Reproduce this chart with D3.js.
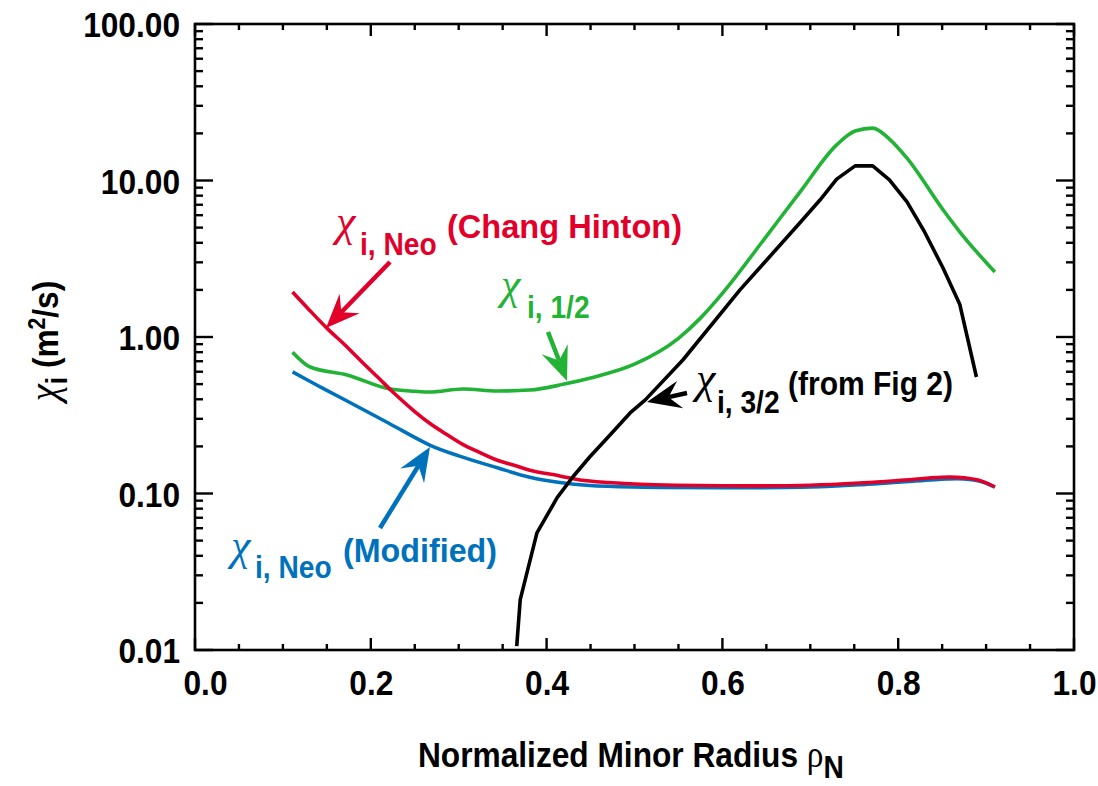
<!DOCTYPE html>
<html><head><meta charset="utf-8">
<script src="https://cdn.jsdelivr.net/npm/d3@7"></script>
<style>body{margin:0;background:#fff}</style>
</head><body><svg id="chart" width="1098" height="786"></svg>
<script>
// ---------- data ----------
const xTickLabels = [0.0, 0.2, 0.4, 0.6, 0.8, 1.0];
const yTickLabels = [0.01, 0.1, 1, 10, 100];

const rhoNeoCH = [0.111, 0.13, 0.15, 0.17, 0.19, 0.21, 0.225, 0.25, 0.267, 0.287, 0.304, 0.32, 0.344, 0.364, 0.381, 0.415, 0.438, 0.47, 0.5, 0.6, 0.7, 0.76, 0.8, 0.85, 0.875, 0.895, 0.91];
const chiNeoCH = [1.94, 1.49, 1.14, 0.895, 0.692, 0.539, 0.445, 0.334, 0.281, 0.237, 0.207, 0.187, 0.163, 0.151, 0.141, 0.1295, 0.122, 0.1175, 0.115, 0.112, 0.113, 0.117, 0.121, 0.127, 0.126, 0.120, 0.110];

const rhoNeoMod = [0.111, 0.14, 0.173, 0.22, 0.267, 0.3, 0.344, 0.381, 0.415, 0.449, 0.5, 0.6, 0.7, 0.76, 0.8, 0.855, 0.875, 0.895, 0.91];
const chiNeoMod = [0.598, 0.488, 0.390, 0.282, 0.204, 0.174, 0.146, 0.127, 0.1175, 0.1125, 0.110, 0.109, 0.110, 0.114, 0.118, 0.124, 0.124, 0.119, 0.110];

const rhoHalf = [0.111, 0.131, 0.173, 0.222, 0.25, 0.267, 0.305, 0.344, 0.381, 0.42, 0.45, 0.5, 0.55, 0.575, 0.6, 0.65, 0.688, 0.73, 0.751, 0.771, 0.79, 0.81, 0.851, 0.87, 0.91];
const chiHalf = [0.80, 0.643, 0.572, 0.465, 0.45, 0.445, 0.465, 0.452, 0.458, 0.50, 0.547, 0.67, 0.98, 1.32, 1.9, 4.4, 8.4, 16.9, 20.7, 21.6, 18.4, 13.9, 6.5, 4.7, 2.6];

const rhoThreeHalf = [0.366, 0.370, 0.389, 0.412, 0.430, 0.449, 0.469, 0.495, 0.512, 0.555, 0.62, 0.688, 0.711, 0.73, 0.751, 0.771, 0.79, 0.81, 0.83, 0.851, 0.87, 0.889];
const chiThreeHalf = [0.0106, 0.021, 0.056, 0.094, 0.128, 0.171, 0.226, 0.327, 0.395, 0.713, 2.0, 5.35, 7.5, 10.2, 12.4, 12.4, 10.1, 7.3, 4.69, 2.76, 1.62, 0.555];

// ---------- setup ----------
const RED = '#e2002b', GREEN = '#22b235', BLUE = '#0072bc', BLACK = '#000';
const SANS = '"Liberation Sans", Arial, Helvetica, sans-serif';
const SERIF = '"Liberation Serif", "Times New Roman", serif';
const SX = 0.88;

const m = {l: 195, r: 1074, t: 24, b: 650};
const svg = d3.select('#chart');
const x = d3.scaleLinear().domain([0, 1]).range([m.l, m.r]);
const y = d3.scaleLog().domain([0.01, 100]).range([m.b, m.t]);

svg.append('defs').append('clipPath').attr('id', 'clip')
  .append('rect').attr('x', m.l).attr('y', m.t).attr('width', m.r - m.l).attr('height', m.b - m.t);

// ---------- frame & ticks ----------
svg.append('rect').attr('x', m.l).attr('y', m.t).attr('width', m.r - m.l).attr('height', m.b - m.t)
  .attr('fill', 'none').attr('stroke', '#000').attr('stroke-width', 2.6);

const tickG = svg.append('g').attr('stroke', '#000').attr('stroke-width', 2.4);
const xAll = d3.range(0, 21).map(i => i * 0.05);
xAll.forEach(v => {
  const major = xTickLabels.some(t => Math.abs(t - v) < 1e-9);
  const len = major ? 12 : 6;
  tickG.append('line').attr('x1', x(v)).attr('x2', x(v)).attr('y1', m.b).attr('y2', m.b - len);
  tickG.append('line').attr('x1', x(v)).attr('x2', x(v)).attr('y1', m.t).attr('y2', m.t + len);
});
const yMinor = [];
[0.01, 0.1, 1, 10].forEach(d => { for (let k = 2; k <= 9; k++) yMinor.push(d * k); });
yTickLabels.forEach(v => {
  tickG.append('line').attr('x1', m.l).attr('x2', m.l + 18).attr('y1', y(v)).attr('y2', y(v));
  tickG.append('line').attr('x1', m.r).attr('x2', m.r - 18).attr('y1', y(v)).attr('y2', y(v));
});
yMinor.forEach(v => {
  tickG.append('line').attr('x1', m.l).attr('x2', m.l + 8).attr('y1', y(v)).attr('y2', y(v));
  tickG.append('line').attr('x1', m.r).attr('x2', m.r - 8).attr('y1', y(v)).attr('y2', y(v));
});

// ---------- tick labels via axes ----------
const xAxis = svg.append('g').attr('transform', `translate(0,${m.b})`)
  .call(d3.axisBottom(x).tickValues(xTickLabels).tickFormat(d3.format('.1f')).tickSize(0));
xAxis.select('.domain').remove();
xAxis.selectAll('text')
  .attr('y', 45).attr('dy', null)
  .attr('x', (d, i) => i === 0 ? 10 / SX : 0)
  .attr('transform', `scale(${SX},1)`)
  .attr('font-family', SANS).attr('font-weight', 'bold').attr('font-size', 36).attr('fill', '#000');

const yAxis = svg.append('g').attr('transform', `translate(${m.l},0)`)
  .call(d3.axisLeft(y).tickValues(yTickLabels).tickFormat(d3.format('.2f')).tickSize(0));
yAxis.select('.domain').remove();
yAxis.selectAll('text')
  .attr('x', -15 / SX).attr('dy', '0.36em')
  .attr('transform', `scale(${SX},1)`)
  .attr('font-family', SANS).attr('font-weight', 'bold').attr('font-size', 36).attr('fill', '#000');

// ---------- axis titles ----------
const xt = svg.append('text').attr('transform', `translate(418,767) scale(${SX},1)`)
  .attr('font-family', SANS).attr('font-weight', 'bold').attr('font-size', 36).attr('fill', '#000');
xt.append('tspan').text('Normalized Minor Radius ');
xt.append('tspan').attr('font-family', SERIF).attr('font-weight', 'normal').attr('font-size', 38).text('ρ');
xt.append('tspan').attr('dy', 11).attr('font-size', 32).text('N');

const yt = svg.append('text').attr('transform', `translate(58,341) rotate(-90) scale(${SX},1)`)
  .attr('text-anchor', 'middle')
  .attr('font-family', SANS).attr('font-weight', 'bold').attr('font-size', 36).attr('fill', '#000');
yt.append('tspan').attr('font-family', SERIF).attr('font-style', 'italic').attr('font-weight', 'normal').attr('font-size', 44).text('χ');
yt.append('tspan').attr('dy', 9).attr('font-size', 30).text('i');
yt.append('tspan').attr('dy', -9).text(' (m');
yt.append('tspan').attr('dy', -13).attr('font-size', 24).text('2');
yt.append('tspan').attr('dy', 13).text('/s)');

// ---------- curves ----------
const plot = svg.append('g').attr('clip-path', 'url(#clip)');
const smooth = d3.line().x(d => x(d[0])).y(d => y(d[1])).curve(d3.curveCatmullRom.alpha(0.5));
const mono = d3.line().x(d => x(d[0])).y(d => y(d[1])).curve(d3.curveMonotoneX);
const straight = d3.line().x(d => x(d[0])).y(d => y(d[1]));
const series = [
  {r: rhoHalf, v: chiHalf, c: GREEN, gen: mono},
  {r: rhoNeoMod, v: chiNeoMod, c: BLUE, gen: smooth},
  {r: rhoNeoCH, v: chiNeoCH, c: RED, gen: smooth},
  {r: rhoThreeHalf, v: chiThreeHalf, c: BLACK, gen: straight}
];
series.forEach(s => {
  plot.append('path').datum(d3.zip(s.r, s.v)).attr('d', s.gen)
    .attr('fill', 'none').attr('stroke', s.c).attr('stroke-width', 3.6)
    .attr('stroke-linejoin', 'round');
});

// ---------- annotations ----------
function arrow(x1, y1, x2, y2, color) {
  const dx = x2 - x1, dy = y2 - y1, L = Math.hypot(dx, dy);
  const ux = dx / L, uy = dy / L, px = -uy, py = ux;
  const hl = 34, hw = 14, notch = 22;
  svg.append('line').attr('x1', x1).attr('y1', y1)
    .attr('x2', x2 - ux * notch).attr('y2', y2 - uy * notch)
    .attr('stroke', color).attr('stroke-width', 4.5);
  const pts = [
    [x2, y2],
    [x2 - ux * hl + px * hw, y2 - uy * hl + py * hw],
    [x2 - ux * notch, y2 - uy * notch],
    [x2 - ux * hl - px * hw, y2 - uy * hl - py * hw]
  ];
  svg.append('path').attr('d', 'M' + pts.map(p => p.join(',')).join('L') + 'Z').attr('fill', color);
}
function label(xc, yb, sub, xs, ys, main, xm, wm, color) {
  const g = svg.append('g').attr('fill', color);
  g.append('text').attr('x', xc).attr('y', yb - 2)
    .attr('font-family', SERIF).attr('font-style', 'italic').attr('font-size', 44).text('χ');
  g.append('text').attr('transform', `translate(${xs},${ys}) scale(${SX},1)`)
    .attr('font-family', SANS).attr('font-weight', 'bold').attr('font-size', 32).text(sub);
  if (main) g.append('text').attr('x', xm).attr('y', yb)
    .attr('textLength', wm).attr('lengthAdjust', 'spacingAndGlyphs')
    .attr('font-family', SANS).attr('font-weight', 'bold').attr('font-size', 34).text(main);
}

arrow(390, 262, 326, 328, RED);
label(336, 238, 'i, Neo', 360, 255, '(Chang Hinton)', 447, 235, RED);

arrow(548, 332, 567, 381, GREEN);
label(501, 301, 'i, 1/2', 527, 318, null, 0, 0, GREEN);

arrow(687, 393, 647, 402, BLACK);
label(696, 395, 'i, 3/2', 717, 413, '(from Fig 2)', 788, 165, BLACK);

arrow(380, 528, 430, 447, BLUE);
label(231, 562, 'i, Neo', 255, 578, '(Modified)', 343, 154, BLUE);
</script>
</body></html>
